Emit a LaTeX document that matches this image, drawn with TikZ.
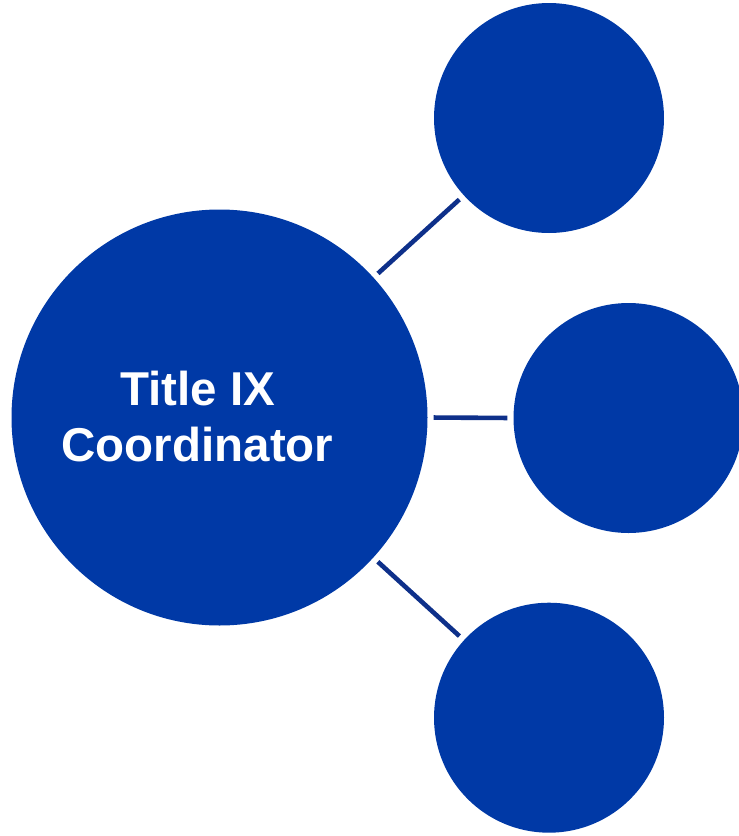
\documentclass[tikz,border=0pt]{standalone}
\usepackage{fontspec}
\setmainfont{Liberation Sans}
\definecolor{circblue}{RGB}{0,57,166}
\definecolor{linkblue}{RGB}{14,48,138}
\begin{document}
\begin{tikzpicture}[x=1pt,y=-1pt,
  bubble/.style={circle,fill=circblue,draw=none,inner sep=0pt,minimum size=#1},
  link/.style={draw=linkblue,line width=4.6pt,shorten <=6pt,shorten >=6pt},
  title/.style={text=white,font=\bfseries\fontsize{47.5}{56}\selectfont,align=center,inner sep=0pt}]
\useasboundingbox (0,0) rectangle (739,836);
\node[bubble=416pt] (main) at (219.5,417.5) {};
\node[bubble=230pt] (top) at (549,118) {};
\node[bubble=230pt] (mid) at (628.5,418) {};
\node[bubble=230pt] (bot) at (549,717.7) {};
\node[title] (lbl) at (197.5,417) {Title IX\\Coordinator};
\draw[link] (main) -- (top);
\draw[link] (main.east) -- (mid.west);
\draw[link] (main) -- (bot);
\end{tikzpicture}
\end{document}
